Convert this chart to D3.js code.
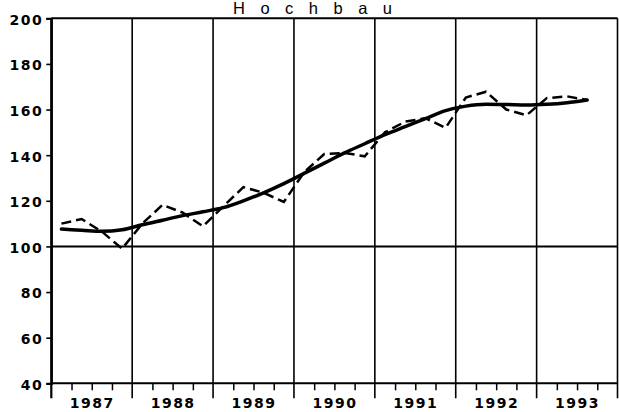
<!DOCTYPE html>
<html>
<head>
<meta charset="utf-8">
<script src="https://cdn.jsdelivr.net/npm/d3@7"></script>
<style>
  html, body { margin: 0; padding: 0; background: #fff; }
  svg { display: block; }
  .lbl { font-family: "DejaVu Sans", sans-serif; font-weight: bold; font-size: 14px; letter-spacing: 1.5px; fill: #000; }
</style>
</head>
<body>
<svg id="chart" width="619" height="412"></svg>
<script>
const title = "Hochbau";
const years = [1987, 1988, 1989, 1990, 1991, 1992, 1993];
const yTicks = [40, 60, 80, 100, 120, 140, 160, 180, 200];
// quarterly values, 1987 Q1 .. 1993 Q3
const actual = [110, 112, 106.5, 99,
                110, 118.2, 114.8, 108.8,
                117.5, 126, 123.5, 119.5,
                132.5, 140.5, 141, 139.5,
                150, 154.7, 156.2, 152,
                165.3, 167.8, 160, 157.5,
                165, 165.8, 164.2];
const trend = [107.6, 107.1, 106.6, 107.3,
               109.5, 111.5, 113.5, 115.2,
               117, 120, 123.5, 127.5,
               132, 136.5, 141, 145,
               149, 152.5, 156, 159.5,
               161.5, 162.3, 162.2, 162,
               162.3, 163, 164.2];

const svg = d3.select("#chart");
const pL = 51.3, pR = 617.5, pT = 18.3, pB = 383.3;
const x = d3.scaleLinear().domain([1987, 1994]).range([pL, pR]);
const y = d3.scaleLinear().domain([40, 200]).range([pB, pT]);
const qx = i => x(1987 + (i + 0.5) / 4);

// year grid lines + long ticks below
const yearBounds = d3.range(1987, 1995);
svg.append("g").selectAll("line").data(yearBounds).join("line")
  .attr("x1", d => x(d)).attr("x2", d => x(d))
  .attr("y1", pT).attr("y2", pB + 15)
  .attr("stroke", "#000").attr("stroke-width", d => (d === 1987 ? 2.2 : 1.6));

// quarter ticks
const qTicks = d3.range(1987, 1994, 0.25).filter(v => Math.abs(v - Math.round(v)) > 0.01);
const xAxisQ = d3.axisBottom(x).tickValues(qTicks).tickSize(7).tickFormat("");
svg.append("g").attr("transform", `translate(0,${pB})`).call(xAxisQ)
  .call(g => g.select(".domain").remove())
  .call(g => g.selectAll("line").attr("stroke", "#000").attr("stroke-width", 1.5));

// year labels
const xAxisY = d3.axisBottom(x).tickValues(years.map(d => d + 0.5)).tickSize(0)
  .tickFormat((d) => String(Math.floor(d)));
svg.append("g").attr("transform", `translate(0,${pB})`).call(xAxisY)
  .attr("font-size", null).attr("font-family", null)
  .call(g => g.select(".domain").remove())
  .call(g => g.selectAll("text").attr("class", "lbl").attr("y", 25).attr("dy", 0));

// frame
svg.append("line").attr("x1", pL).attr("x2", pR).attr("y1", pT).attr("y2", pT)
  .attr("stroke", "#000").attr("stroke-width", 2);
svg.append("line").attr("x1", pL).attr("x2", pR).attr("y1", pB).attr("y2", pB)
  .attr("stroke", "#000").attr("stroke-width", 2);
svg.append("line").attr("x1", pL).attr("x2", pR).attr("y1", y(100)).attr("y2", y(100))
  .attr("stroke", "#000").attr("stroke-width", 2);

// y axis
const yAxis = d3.axisLeft(y).tickValues(yTicks).tickSize(5).tickPadding(3);
svg.append("g").attr("transform", `translate(${pL},0)`).call(yAxis)
  .attr("font-size", null).attr("font-family", null)
  .call(g => g.select(".domain").attr("stroke-width", 2.2))
  .call(g => g.selectAll("line").attr("stroke-width", 1.6))
  .call(g => g.selectAll("text").attr("class", "lbl").attr("dy", "0.42em"));

// lines
const line = d3.line().x((d, i) => qx(i)).y(d => y(d)).curve(d3.curveLinear);
svg.append("path").datum(actual).attr("d", line)
  .attr("fill", "none").attr("stroke", "#000").attr("stroke-width", 2.5)
  .attr("stroke-dasharray", "10,5");
svg.append("path").datum(trend).attr("d", d3.line().x((d, i) => qx(i)).y(d => y(d)).curve(d3.curveMonotoneX))
  .attr("fill", "none").attr("stroke", "#000").attr("stroke-width", 3.5)
  .attr("stroke-linecap", "round");

// title
svg.append("text").attr("x", 233).attr("y", 13.5)
  .attr("font-family", "Liberation Sans, Arial, sans-serif").attr("font-size", 16.5)
  .attr("letter-spacing", "15.5px").attr("fill", "#000").text(title);
</script>
</body>
</html>
